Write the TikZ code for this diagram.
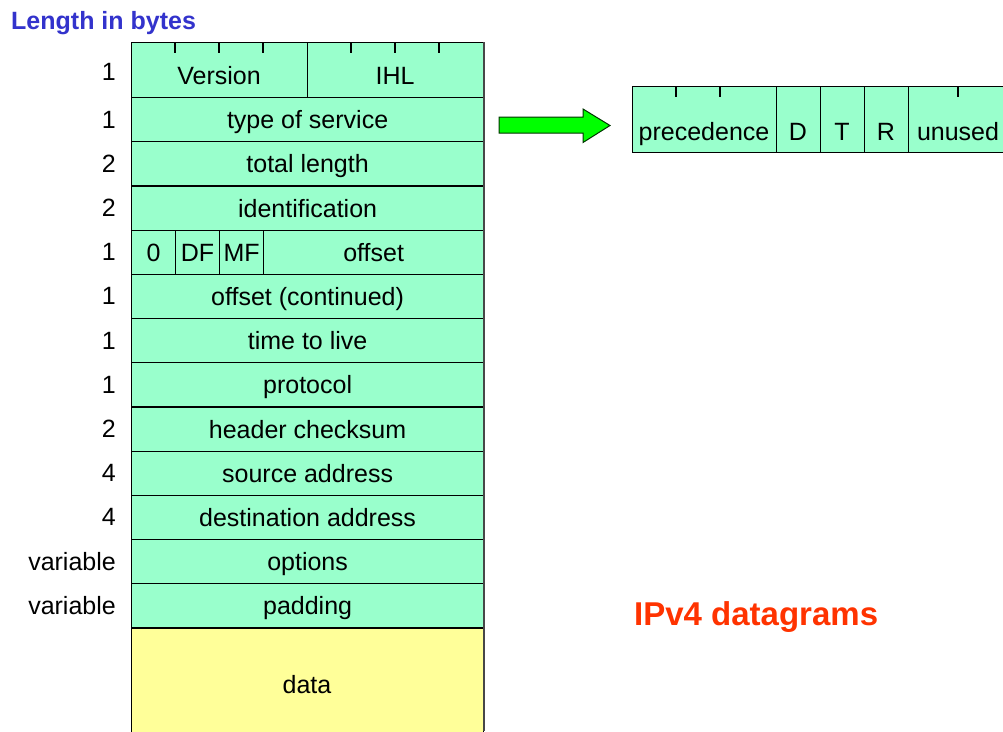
\documentclass[tikz,border=0pt]{standalone}
\usepackage{fontspec}
\setmainfont{Liberation Sans}
\definecolor{mint}{HTML}{99FFCC}
\definecolor{pale}{HTML}{FFFF99}
\definecolor{titleblue}{HTML}{3333CC}
\definecolor{ipred}{HTML}{FF3300}
\definecolor{arrowgreen}{HTML}{00FF00}
\begin{document}
\begin{tikzpicture}[x=1pt,y=-1pt,
  field/.style={draw=black, line width=1.2pt, fill=mint, inner sep=0pt, anchor=north west,
    text height=23pt, text depth=5pt, font=\fontsize{25}{30}\selectfont},
  datafield/.style={field, fill=pale},
  ftext/.style={inner sep=0pt, text height=23pt, text depth=5pt, font=\fontsize{25}{30}\selectfont},
  lenlabel/.style={ftext, anchor=east},
  tick/.style={line width=1.1pt, black}]
\clip (0,0) rectangle (1003,731);
\fill[white] (0,0) rectangle (1003,731);

% title
\node[anchor=base west, inner sep=0pt, text=titleblue, font=\fontsize{25}{30}\selectfont\bfseries] (title) at (11,29) {Length in bytes};

% row 1
\node[field, minimum width=176pt, minimum height=55pt] (ver) at (131,42) {};
\node[field, minimum width=176pt, minimum height=55pt] (ihl) at (307,42) {};
\node[ftext] (vertxt) at (219,75) {Version};
\node[ftext] (ihltxt) at (395,75) {IHL};
\foreach \x in {175,219,263,351,395,439}{\draw[tick] (\x,42) -- (\x,52.5);}
\node[lenlabel] (len1) at (116,71) {1};

% generic rows
\foreach \i/\txt/\len in {2/type of service/1,3/total length/2,4/identification/2,6/offset (continued)/1,7/time to live/1,8/protocol/1,9/header checksum/2,10/source address/4,11/destination address/4,12/options/variable,13/padding/variable}{
  \pgfmathsetmacro\ty{97+44.2*(\i-2)}
  \node[field, minimum width=352pt, minimum height=44.2pt] (row\i) at (131,\ty) {\txt};
  \node[lenlabel] (len\i) at (116,\ty+22.1) {\len};
}

% row 5: flags
\pgfmathsetmacro\fy{97+44.2*3}
\node[field, minimum width=44pt, minimum height=44.2pt] (zero) at (131,\fy) {0};
\node[field, minimum width=44pt, minimum height=44.2pt] (df) at (175,\fy) {DF};
\node[field, minimum width=44pt, minimum height=44.2pt] (mf) at (219,\fy) {MF};
\node[field, minimum width=220pt, minimum height=44.2pt] (offset) at (263,\fy) {offset};
\node[lenlabel] (len5) at (116,\fy+22.1) {1};

% data
\node[datafield, minimum width=352pt, minimum height=120pt] (data) at (131,627.4) {};
\node[ftext] (datatxt) at (307,684) {data};

% right edge shade
\draw[line width=2.4pt, black!72] (484,42) -- (484,731);

% arrow
\filldraw[fill=arrowgreen, draw=black!80!green, line width=1pt]
  (499,117) -- (583,117) -- (583,109) -- (610,125.5) -- (583,142.5) -- (583,133) -- (499,133) -- cycle;

% type of service breakdown
\node[field, minimum width=144pt, minimum height=66pt] (prec) at (632,86) {};
\node[field, minimum width=44pt, minimum height=66pt] (dbit) at (776,86) {};
\node[field, minimum width=44pt, minimum height=66pt] (tbit) at (820,86) {};
\node[field, minimum width=44pt, minimum height=66pt] (rbit) at (864,86) {};
\node[field, minimum width=100pt, minimum height=66pt] (unused) at (908,86) {};
\foreach \x in {676,720,958}{\draw[tick] (\x,86) -- (\x,96.5);}
\node[ftext] (prectxt) at (704,131) {precedence};
\node[ftext] (dtxt) at (798,131) {D};
\node[ftext] (ttxt) at (842,131) {T};
\node[ftext] (rtxt) at (886,131) {R};
\node[ftext] (untxt) at (958,131) {unused};

% caption
\node[anchor=base west, inner sep=0pt, text=ipred, font=\fontsize{33}{40}\selectfont\bfseries] (caption) at (634,625) {IPv4 datagrams};
\end{tikzpicture}
\end{document}
